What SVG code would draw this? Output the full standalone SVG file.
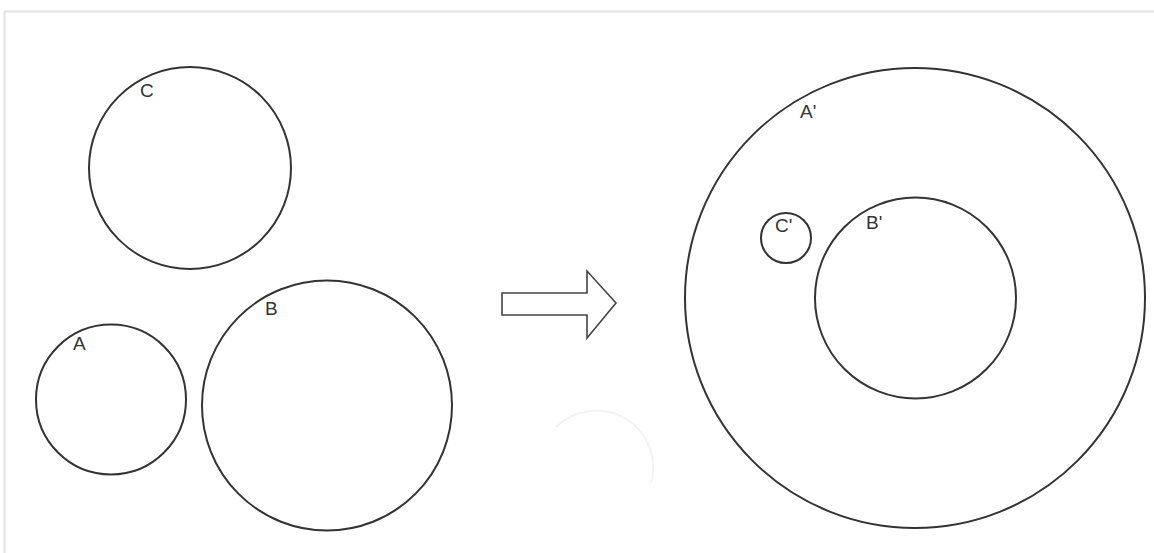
<svg xmlns="http://www.w3.org/2000/svg" width="1154" height="553" viewBox="0 0 1154 553">
<style>
.c{fill:none;stroke:#333;stroke-width:2}
.t{font-family:"Liberation Sans",Arial,sans-serif;font-size:19px;fill:#333}
</style>
<rect x="0" y="0" width="1154" height="553" fill="#fff"/>
<path d="M4.5,553 V11.5 H1154" fill="none" stroke="#e2e2e2" stroke-width="2"/>
<g id="C"><circle class="c" cx="190" cy="168" r="101"/><text class="t" x="140" y="97">C</text></g>
<g id="A"><circle class="c" cx="111" cy="399.5" r="75"/><text class="t" x="73" y="350">A</text></g>
<g id="B"><circle class="c" cx="327" cy="405.5" r="125"/><text class="t" x="265" y="315">B</text></g>
<g id="Ap"><circle class="c" cx="915" cy="298" r="230"/><text class="t" x="800" y="118">A'</text></g>
<g id="Bp"><circle class="c" cx="915.5" cy="298" r="100.5"/><text class="t" x="866" y="229">B'</text></g>
<g id="Cp"><circle class="c" cx="786" cy="238" r="25"/><text class="t" x="775" y="232">C'</text></g>
<g id="connectors">
<path d="M502,293 H587 V271 L616,303 L587,338 V315 H502 Z" fill="#fff" stroke="#444" stroke-width="1.6"/>
</g>
<path d="M556,427 A57,57 0 0 1 651,483" fill="none" stroke="#f2f2f2" stroke-width="2"/>
</svg>
